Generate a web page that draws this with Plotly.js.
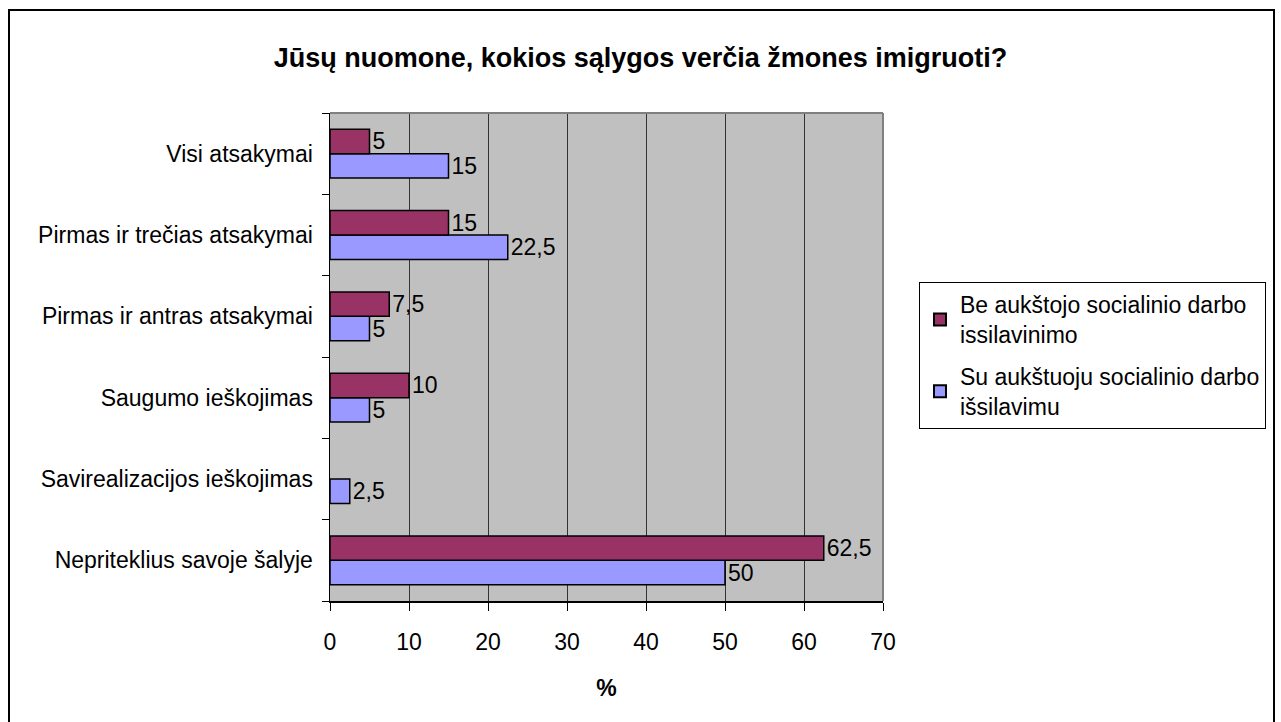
<!DOCTYPE html>
<html>
<head>
<meta charset="utf-8">
<script src="https://cdn.plot.ly/plotly-3.0.1.min.js"></script>
<style>
html,body{margin:0;padding:0;background:#fff;}
#chart{width:1281px;height:722px;}
</style>
</head>
<body>
<div id="chart"></div>
<script>
// Categories listed from bottom to top
const categories = [
  "Nepriteklius savoje šalyje",
  "Savirealizacijos ieškojimas",
  "Saugumo ieškojimas",
  "Pirmas ir antras atsakymai",
  "Pirmas ir trečias atsakymai",
  "Visi atsakymai"
];
const seriesNames = [
  "Be aukštojo socialinio darbo<br>issilavinimo",
  "Su aukštuoju socialinio darbo<br>išsilavimu"
];
const beAukstojo = [62.5, null, 10, 7.5, 15, 5];
const suAukstuoju = [50, 2.5, 5, 5, 22.5, 15];
const xTicks = [0, 10, 20, 30, 40, 50, 60, 70];

const fmt = v => (v === null ? "" : String(v).replace(".", ","));
const FONT = "Arial, 'Liberation Sans', sans-serif";

const L = 330, R = 398, T = 113, B = 121;
const W = 1281, H = 722;
const pw = W - L - R, ph = H - T - B;
const px = x => (x - L) / pw;
const py = y => (H - B - y) / ph;

const traces = [
  {
    type: "bar", orientation: "h", name: seriesNames[1], legendgroup: "su", legendrank: 2,
    y: categories, x: suAukstuoju, text: suAukstuoju.map(fmt),
    textposition: "outside", constraintext: "none", cliponaxis: false,
    textfont: {family: FONT, size: 23, color: "#000"},
    marker: {color: "#9999FF", line: {color: "#000", width: 1.5}}
  },
  {
    type: "bar", orientation: "h", name: seriesNames[0], legendgroup: "be", legendrank: 1,
    y: categories, x: beAukstojo, text: beAukstojo.map(fmt),
    textposition: "outside", constraintext: "none", cliponaxis: false,
    textfont: {family: FONT, size: 23, color: "#000"},
    marker: {color: "#993366", line: {color: "#000", width: 1.5}}
  }
];

const layout = {
  width: W, height: H,
  margin: {l: L, r: R, t: T, b: B, pad: 0},
  paper_bgcolor: "#fff",
  plot_bgcolor: "#C0C0C0",
  font: {family: FONT, size: 23, color: "#000"},
  barmode: "group",
  bargap: 0.4,
  bargroupgap: 0,
  title: {
    text: "<b>Jūsų nuomone, kokios sąlygos verčia žmones imigruoti?</b>",
    font: {family: FONT, size: 27, color: "#000"},
    xref: "container", x: 0.5, xanchor: "center",
    yref: "container", y: 1 - 58 / H, yanchor: "middle"
  },
  xaxis: {
    range: [0, 70],
    tickvals: xTicks,
    ticktext: xTicks.map(String),
    ticks: "outside", ticklen: 8, tickcolor: "#000", tickwidth: 1,
    showline: true, linecolor: "#000", linewidth: 1.5,
    showgrid: true, gridcolor: "#333", gridwidth: 1,
    zeroline: false,
    ticklabelstandoff: 12,
    tickfont: {family: FONT, size: 23, color: "#000"},
    title: {text: "<b>%</b>", font: {family: FONT, size: 23, color: "#000"}, standoff: 26},
    fixedrange: true
  },
  yaxis: {
    type: "category",
    categoryorder: "array", categoryarray: categories,
    ticks: "outside", tickson: "boundaries", ticklen: 7, tickcolor: "#000", tickwidth: 1,
    showline: true, linecolor: "#000", linewidth: 1.5,
    showgrid: false, zeroline: false,
    ticklabelstandoff: 11,
    tickfont: {family: FONT, size: 23, color: "#000"},
    fixedrange: true
  },
  legend: {
    x: px(919), xanchor: "left",
    y: py(282), yanchor: "top",
    bgcolor: "#fff", bordercolor: "#000", borderwidth: 1,
    traceorder: "grouped",
    font: {family: FONT, size: 23, color: "#000"},
    itemsizing: "constant",
    tracegroupgap: 9
  },
  shapes: [
    {type: "line", xref: "paper", yref: "paper", x0: 0, x1: 1, y0: 1, y1: 1, line: {color: "#808080", width: 2}},
    {type: "line", xref: "paper", yref: "paper", x0: 1, x1: 1, y0: 0, y1: 1, line: {color: "#808080", width: 2}},
    {type: "rect", xref: "paper", yref: "paper", layer: "below",
     x0: px(9), x1: px(1274), y0: py(730), y1: py(10),
     line: {color: "#000", width: 2}, fillcolor: "rgba(0,0,0,0)"}
  ],
  showlegend: true,
  hovermode: false
};

Plotly.newPlot("chart", traces, layout, {staticPlot: true, displayModeBar: false});
</script>
</body>
</html>
